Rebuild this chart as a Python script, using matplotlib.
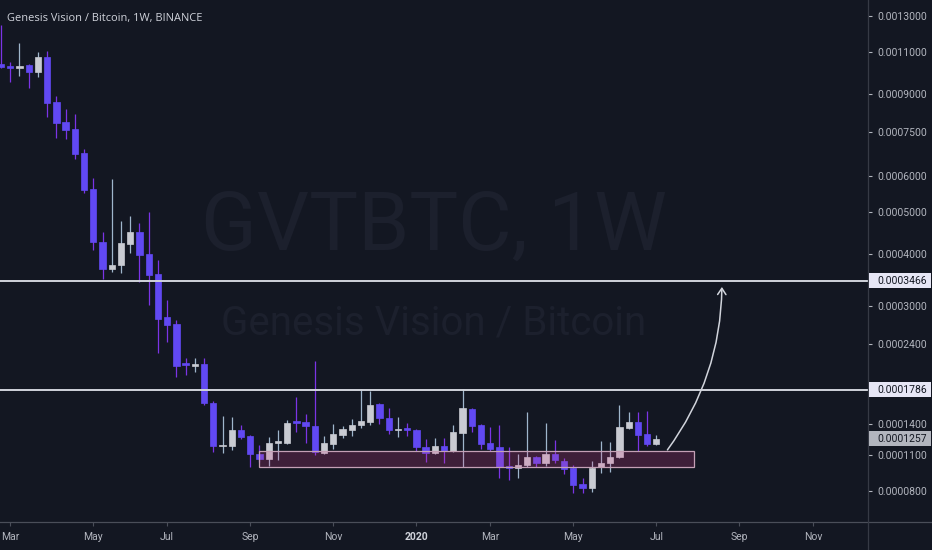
import numpy as np
import matplotlib
matplotlib.use('Agg')
import matplotlib.pyplot as plt
import pandas as pd
from matplotlib.patches import Rectangle, FancyArrowPatch
from matplotlib.lines import Line2D

# ---------------- data (weekly GVT/BTC candles) ----------------
start_week = '2019-02-25'
opens = [
    0.0010381, 0.0010281, 0.0010186, 0.0010331, 0.0009995, 0.0010729, 0.0008659, 0.0007860, 0.0007596, 0.0006750,
    0.0005634, 0.0004277, 0.0003696, 0.0003777, 0.0004231, 0.0004510, 0.0004010, 0.0003596, 0.0002817, 0.0002703,
    0.0002129, 0.0002089, 0.0002116, 0.0001633, 0.0001186, 0.0001186, 0.0001343, 0.0001283, 0.0001112, 0.0001067,
    0.0001215, 0.0001215, 0.0001436, 0.0001426, 0.0001384, 0.0001122, 0.0001206, 0.0001293, 0.0001343, 0.0001394,
    0.0001426, 0.0001621, 0.0001468, 0.0001343, 0.0001363, 0.0001343, 0.0001177, 0.0001122, 0.0001186, 0.0001140,
    0.0001313, 0.0001566, 0.0001394, 0.0001215, 0.0001177, 0.0001005, 0.0000988, 0.0001014, 0.0001085, 0.0001032,
    0.0001112, 0.0001050, 0.0000988, 0.0000856, 0.0000824, 0.0000997, 0.0001032, 0.0001085, 0.0001363, 0.0001426,
    0.0001303, 0.0001206]
highs = [
    0.0012468, 0.0010480, 0.0011462, 0.0010381, 0.0010987, 0.0011039, 0.0008911, 0.0008371, 0.0008171, 0.0006885,
    0.0005956, 0.0004510, 0.0005927, 0.0004778, 0.0004903, 0.0004728, 0.0005007, 0.0003882, 0.0003108, 0.0002768,
    0.0002198, 0.0002198, 0.0002198, 0.0001656, 0.0001489, 0.0001478, 0.0001394, 0.0001293, 0.0001196, 0.0001273,
    0.0001343, 0.0001447, 0.0001702, 0.0001511, 0.0002157, 0.0001283, 0.0001405, 0.0001384, 0.0001457, 0.0001797,
    0.0001773, 0.0001633, 0.0001577, 0.0001478, 0.0001415, 0.0001353, 0.0001254, 0.0001264, 0.0001264, 0.0001394,
    0.0001797, 0.0001577, 0.0001405, 0.0001373, 0.0001394, 0.0001177, 0.0001112, 0.0001533, 0.0001094, 0.0001415,
    0.0001244, 0.0001076, 0.0001014, 0.0000904, 0.0001050, 0.0001235, 0.0001225, 0.0001610, 0.0001533, 0.0001533,
    0.0001544, 0.0001293]
lows = [
    0.0010186, 0.0009531, 0.0009805, 0.0009260, 0.0009759, 0.0008052, 0.0007268, 0.0007233, 0.0006552, 0.0005520,
    0.0004098, 0.0003498, 0.0003636, 0.0003616, 0.0004032, 0.0003440, 0.0003020, 0.0002267, 0.0002427, 0.0001946,
    0.0001971, 0.0002010, 0.0001610, 0.0001131, 0.0001122, 0.0001149, 0.0001254, 0.0000997, 0.0001041, 0.0001005,
    0.0001059, 0.0001206, 0.0001323, 0.0001215, 0.0001103, 0.0001112, 0.0001159, 0.0001264, 0.0001283, 0.0001363,
    0.0001394, 0.0001405, 0.0001303, 0.0001273, 0.0001283, 0.0001140, 0.0001041, 0.0001112, 0.0001032, 0.0001131,
    0.0000997, 0.0001323, 0.0001159, 0.0001140, 0.0000904, 0.0000888, 0.0000904, 0.0000997, 0.0000997, 0.0001005,
    0.0001032, 0.0000938, 0.0000785, 0.0000785, 0.0000793, 0.0000946, 0.0000955, 0.0001076, 0.0001353, 0.0001140,
    0.0001186, 0.0001196]
closes = [
    0.0010234, 0.0010186, 0.0010281, 0.0009995, 0.0010729, 0.0008617, 0.0007822, 0.0007559, 0.0006716, 0.0005606,
    0.0004277, 0.0003696, 0.0003777, 0.0004254, 0.0004510, 0.0003988, 0.0003576, 0.0002784, 0.0002687, 0.0002089,
    0.0002102, 0.0002116, 0.0001633, 0.0001186, 0.0001196, 0.0001343, 0.0001273, 0.0001112, 0.0001067, 0.0001215,
    0.0001235, 0.0001415, 0.0001415, 0.0001384, 0.0001131, 0.0001215, 0.0001303, 0.0001353, 0.0001394, 0.0001436,
    0.0001610, 0.0001468, 0.0001343, 0.0001353, 0.0001343, 0.0001177, 0.0001122, 0.0001186, 0.0001140, 0.0001323,
    0.0001577, 0.0001384, 0.0001206, 0.0001159, 0.0000997, 0.0000988, 0.0001014, 0.0001085, 0.0001032, 0.0001112,
    0.0001059, 0.0000980, 0.0000848, 0.0000824, 0.0000988, 0.0001032, 0.0001085, 0.0001373, 0.0001426, 0.0001293,
    0.0001206, 0.0001257]

level_upper = 0.0003466
level_lower = 0.0001786
last_price = 0.0001257
zone_low, zone_high = 0.0000997, 0.0001140
y_ticks = [0.0013, 0.0011, 0.0009, 0.00075, 0.0006, 0.0005, 0.0004,
           0.0003, 0.00024, 0.00014, 0.00011, 0.00008]
title_text = 'Genesis Vision / Bitcoin, 1W, BINANCE'
wm_big = 'GVTBTC, 1W'
wm_small = 'Genesis Vision / Bitcoin'

# ---------------- styling ----------------
BG = '#131722'
UP_BODY, UP_WICK = '#c9cbd2', '#9fb6cc'
DN_BODY, DN_WICK = '#6149f2', '#7b34e6'
AX_TXT = '#b2b5be'
W, H = 932, 550
PANE_W, PANE_H = 868, 522

fig = plt.figure(figsize=(W / 100, H / 100), dpi=100, facecolor=BG)
ax = fig.add_axes([0, (H - PANE_H) / H, PANE_W / W, PANE_H / H])
ax.set_facecolor(BG)

OFFSET = 1e-4  # TradingView style log scale: log(price + offset)


def fwd(p):
    return np.log10(np.clip(np.asarray(p, dtype=float) + OFFSET, 1e-12, None))


def inv(v):
    return 10 ** np.asarray(v, dtype=float) - OFFSET


ax.set_yscale('function', functions=(fwd, inv))
ax.set_ylim(0.0000574, 0.0014)
ax.set_xlim(-0.11, 93.93)

o, h, l, c = map(np.asarray, (opens, highs, lows, closes))
x = np.arange(len(o))
up = c >= o

# watermark
ax.text(46.9, 0.000410, wm_big, color='#1c202d', fontsize=59, family='Roboto',
        ha='center', va='baseline', zorder=0)
ax.text(46.9, 0.000253, wm_small, color='#1c202d', fontsize=29, family='Roboto',
        ha='center', va='baseline', zorder=0)

# wicks
ax.vlines(x[up], l[up], h[up], color=UP_WICK, lw=0.9, zorder=2)
ax.vlines(x[~up], l[~up], h[~up], color=DN_WICK, lw=0.9, zorder=2)
# bodies
ax.bar(x[up], (c - o)[up], bottom=o[up], width=0.68, color=UP_BODY,
       edgecolor=UP_BODY, linewidth=0.5, zorder=3)
ax.bar(x[~up], (o - c)[~up], bottom=c[~up], width=0.68, color=DN_BODY,
       edgecolor=DN_BODY, linewidth=0.5, zorder=3)

# horizontal levels
for lv in (level_upper, level_lower):
    ax.axhline(lv, color='#d1d4dc', lw=1.4, zorder=4)

# support zone
zone = Rectangle((27.95, zone_low), 75.1 - 27.95, zone_high - zone_low,
                 facecolor=(0.85, 0.25, 0.55, 0.22), edgecolor='#c4a0b6',
                 lw=0.9, zorder=5)
ax.add_patch(zone)

# curved arrow
arr = FancyArrowPatch((72.2, 0.0001149), (78.1, 0.0003344),
                      connectionstyle='arc3,rad=0.16',
                      arrowstyle='->,head_length=0.45,head_width=0.3',
                      mutation_scale=10, color='#d1d4dc', lw=1.1,
                      shrinkA=0, shrinkB=0, zorder=6)
ax.add_patch(arr)

# y axis on the right
ax.yaxis.tick_right()
ax.set_yticks(y_ticks)
ax.set_yticklabels(['{:.7f}'.format(t) for t in y_ticks])
ax.yaxis.set_minor_locator(matplotlib.ticker.NullLocator())
ax.tick_params(axis='y', colors=AX_TXT, labelsize=7.5, length=3, width=0.8,
               pad=4, direction='out')
for lab in ax.get_yticklabels():
    lab.set_family('Roboto')

# x axis months
weeks = pd.date_range(start_week, periods=95, freq='W-MON')
tick_idx, tick_lab = [], []
for i in range(1, len(weeks)):
    if weeks[i].month != weeks[i - 1].month and weeks[i].month % 2 == 1:
        tick_idx.append(i)
        tick_lab.append(str(weeks[i].year) if weeks[i].month == 1 else weeks[i].strftime('%b'))
ax.set_xticks(tick_idx)
ax.set_xticklabels(tick_lab)
ax.tick_params(axis='x', colors='#4a4e59', labelcolor=AX_TXT, labelsize=7.5,
               length=3, width=0.8, pad=4)
for lab in ax.get_xticklabels():
    lab.set_family('Roboto')
    if lab.get_text().isdigit():
        lab.set_fontweight('bold')
        lab.set_color('#d1d4dc')

for s in ax.spines.values():
    s.set_visible(False)

# separators
fig.add_artist(Line2D([0, 1], [(H - PANE_H) / H] * 2, color='#4a4e59', lw=0.9,
                      transform=fig.transFigure))
fig.add_artist(Line2D([PANE_W / W] * 2, [0, 1], color='#363a45', lw=0.9,
                      transform=fig.transFigure))

# price label boxes on the right axis
fig.canvas.draw()


def price_box(price, face, txt_color):
    yd = ax.transData.transform((0, price))[1]
    hb = 15
    rect = Rectangle(((PANE_W + 1) / W, (yd - hb / 2) / H), (W - PANE_W - 2) / W, hb / H,
                     transform=fig.transFigure, facecolor=face, edgecolor='none', zorder=10)
    fig.add_artist(rect)
    fig.text((PANE_W + 9) / W, yd / H, '{:.7f}'.format(price), color=txt_color,
             fontsize=7.5, family='Roboto', va='center', ha='left', zorder=11)


price_box(level_upper, '#e6e6f5', '#131722')
price_box(level_lower, '#e6e6f5', '#131722')
price_box(last_price, '#b2b5be', '#131722')

fig.text(7 / W, 1 - 18 / H, title_text, color='#d1d4dc', fontsize=7.9,
         family='Open Sans', va='center', ha='left')

fig.savefig('out.png', dpi=100, facecolor=BG)
